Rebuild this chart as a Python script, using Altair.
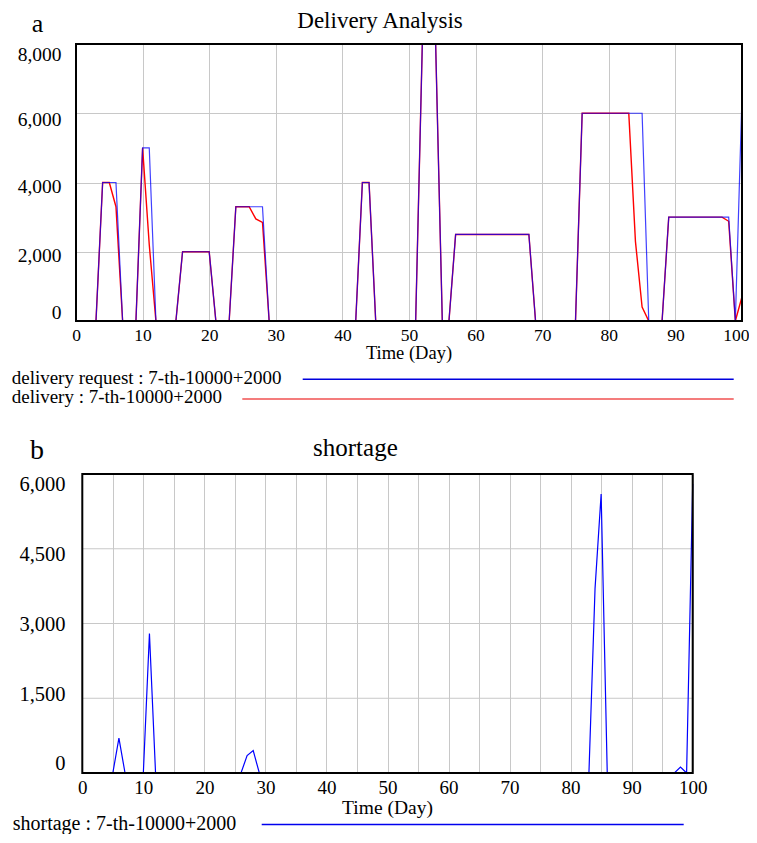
import altair as alt
import pandas as pd

# ---------------- data ----------------
days = list(range(101))

delivery_request = [
    0, 0, 0, 0, 4000, 4000, 4000, 0, 0, 0,                      # 0-9
    5000, 5000, 0, 0, 0, 0, 2000, 2000, 2000, 2000,              # 10-19
    2000, 0, 0, 0, 3300, 3300, 3300, 3300, 3300, 0,              # 20-29
    0, 0, 0, 0, 0, 0, 0, 0, 0, 0,                                # 30-39
    0, 0, 0, 4000, 4000, 0, 0, 0, 0, 0,                          # 40-49
    0, 0, 8000, 8000, 8000, 0, 0, 2500, 2500, 2500,              # 50-59
    2500, 2500, 2500, 2500, 2500, 2500, 2500, 2500, 2500, 0,     # 60-69
    0, 0, 0, 0, 0, 0, 6000, 6000, 6000, 6000,                    # 70-79
    6000, 6000, 6000, 6000, 6000, 6000, 0, 0, 0, 3000,           # 80-89
    3000, 3000, 3000, 3000, 3000, 3000, 3000, 3000, 3000, 0,     # 90-99
    6500,                                                        # 100
]

delivery = [
    0, 0, 0, 0, 4000, 4000, 3300, 0, 0, 0,
    5000, 2200, 0, 0, 0, 0, 2000, 2000, 2000, 2000,
    2000, 0, 0, 0, 3300, 3300, 3300, 2950, 2850, 0,
    0, 0, 0, 0, 0, 0, 0, 0, 0, 0,
    0, 0, 0, 4000, 4000, 0, 0, 0, 0, 0,
    0, 0, 8000, 8000, 8000, 0, 0, 2500, 2500, 2500,
    2500, 2500, 2500, 2500, 2500, 2500, 2500, 2500, 2500, 0,
    0, 0, 0, 0, 0, 0, 6000, 6000, 6000, 6000,
    6000, 6000, 6000, 6000, 2300, 400, 0, 0, 0, 3000,
    3000, 3000, 3000, 3000, 3000, 3000, 3000, 3000, 2880, 0,
    700,
]

shortage = [
    0, 0, 0, 0, 0, 0, 700, 0, 0, 0,
    0, 2800, 0, 0, 0, 0, 0, 0, 0, 0,
    0, 0, 0, 0, 0, 0, 0, 350, 450, 0,
    0, 0, 0, 0, 0, 0, 0, 0, 0, 0,
    0, 0, 0, 0, 0, 0, 0, 0, 0, 0,
    0, 0, 0, 0, 0, 0, 0, 0, 0, 0,
    0, 0, 0, 0, 0, 0, 0, 0, 0, 0,
    0, 0, 0, 0, 0, 0, 0, 0, 0, 0,
    0, 0, 0, 0, 3700, 5600, 0, 0, 0, 0,
    0, 0, 0, 0, 0, 0, 0, 0, 120, 0,
    5800,
]

x_ticks = list(range(0, 101, 5))
top_y_ticks = [0, 2000, 4000, 6000, 8000]
bottom_y_ticks = [0, 1500, 3000, 4500, 6000]

top_title = "Delivery Analysis"
bottom_title = "shortage"
x_title = "Time (Day)"
legend_request = "delivery request : 7-th-10000+2000"
legend_delivery = "delivery : 7-th-10000+2000"
legend_shortage = "shortage : 7-th-10000+2000"

df = pd.DataFrame({
    "day": days,
    "request": delivery_request,
    "delivery": delivery,
    "shortage": shortage,
})

FONT = "Liberation Serif"
GRID = "#c8c8c8"


def xaxis(size, pad, last_shift=0):
    kw = {}
    if last_shift:
        kw["labelAlign"] = {"condition": {"test": "datum.value == 100", "value": "right"},
                            "value": "center"}
        kw["labelOffset"] = {"condition": {"test": "datum.value == 100", "value": last_shift},
                             "value": 0}
    return alt.Axis(
        values=x_ticks,
        labelExpr="datum.value % 10 == 0 ? datum.label : ''",
        title=None, grid=True, gridColor=GRID, gridWidth=1,
        ticks=False, tickSize=0, domain=False,
        labelFont=FONT, labelFontSize=size, labelColor="black",
        labelPadding=pad, labelAngle=0, labelBaseline="top",
        labelFlush=False, labelOverlap=False, **kw,
    )


def yaxis(vals, size, pad, offsets, grid):
    cond = [{"test": f"datum.value == {v}", "value": o} for v, o in zip(vals, offsets)]
    return alt.Axis(
        values=vals, format=",.0f",
        title=None, grid=grid, gridColor=GRID, gridWidth=1,
        ticks=False, tickSize=0, domain=False,
        labelFont=FONT, labelFontSize=size, labelColor="black",
        labelPadding=pad, labelBaseline="middle",
        labelOffset={"condition": cond, "value": 0},
        labelFlush=False, labelOverlap=False,
    )


def txt(text, x, y, size, align="left"):
    return alt.Chart(pd.DataFrame({"t": [text]})).mark_text(
        font=FONT, fontSize=size, align=align, baseline="alphabetic", color="black"
    ).encode(text="t:N", x=alt.value(x), y=alt.value(y))


def rule(x1, x2, y, color, w, opacity=1):
    return alt.Chart(pd.DataFrame({"k": [0]})).mark_rule(
        color=color, strokeWidth=w, opacity=opacity
    ).encode(x=alt.value(x1), x2=alt.value(x2), y=alt.value(y))


def frame(x1, x2, h):
    return alt.Chart(pd.DataFrame({"k": [0]})).mark_rect(
        filled=False, stroke="black", strokeWidth=2
    ).encode(x=alt.value(x1), x2=alt.value(x2), y=alt.value(0), y2=alt.value(h))


# ---------------- top panel ----------------
TW, TH = 666, 277
x_scale = alt.Scale(domain=[0, 100], nice=False)
top_y_scale = alt.Scale(domain=[0, 8000], nice=False)

base_top = alt.Chart(df)
red_line = base_top.mark_line(color="#ff0000", strokeWidth=1.4).encode(
    x=alt.X("day:Q", scale=x_scale, axis=xaxis(17.5, 5, 7)),
    y=alt.Y("delivery:Q", scale=top_y_scale,
            axis=yaxis(top_y_ticks, 19.5, 15, [-9, 4, 4, 6, 10], True)),
)
blue_line = base_top.mark_line(color="#0000ff", strokeWidth=1.2, opacity=0.75).encode(
    x=alt.X("day:Q"), y=alt.Y("request:Q"))

top = alt.layer(
    red_line,
    blue_line,
    frame(0, TW, TH),
    txt("a", -44.3, -12.5, 26),
    txt(top_title, 304, -15.9, 23, "center"),
    txt(x_title, TW / 2, 315.3, 18.5, "center"),
    txt(legend_request, -64.3, 340.3, 19),
    txt(legend_delivery, -64.3, 359.3, 19),
    rule(226.7, 657.7, 335.3, "#0000dd", 1.4),
    rule(166.3, 657.7, 355, "#f47c7c", 2),
    rule(-67.5, -67.5, -36, "white", 1, 0),
    rule(-67.5, -67.5, 371, "white", 1, 0),
).properties(width=TW, height=TH)

# ---------------- bottom panel ----------------
BX0, BX1, BH = 6.3, 616.7, 299
bx_scale = alt.Scale(domain=[0, 100], range=[BX0, BX1], nice=False)
by_scale = alt.Scale(domain=[0, 6000], nice=False)
by_axis = yaxis(bottom_y_ticks, 20.5, 11, [-9.5, -4, 1, 5.5, 10.5], False)

bottom_grid = alt.Chart(pd.DataFrame({"v": bottom_y_ticks})).mark_rule(
    color=GRID, strokeWidth=1
).encode(y=alt.Y("v:Q", scale=by_scale, axis=by_axis), x=alt.value(BX0), x2=alt.value(BX1))

short_line = alt.Chart(df).mark_line(color="#0000ff", strokeWidth=1.2).encode(
    x=alt.X("day:Q", scale=bx_scale, axis=xaxis(19, 5)),
    y=alt.Y("shortage:Q", scale=by_scale, axis=by_axis),
)

bottom = alt.layer(
    bottom_grid,
    short_line,
    frame(BX0, BX1, BH),
    txt("b", -46, -15, 28),
    txt(bottom_title, 279.4, -17.7, 25, "center"),
    txt(x_title, (BX0 + BX1) / 2, 340, 19.5, "center"),
    txt(legend_shortage, -63.3, 356, 20),
    rule(185.7, 607.7, 350.5, "#0000ee", 1.3),
    rule(-60, -60, -58.5, "white", 1, 0),
).properties(width=617, height=BH)

chart = alt.vconcat(top, bottom, spacing=0).properties(
    padding=0, background="white"
).configure_view(stroke=None).configure_concat(spacing=0).configure_axis(labelFont=FONT)

chart.save("out.html", embed_options={"renderer": "svg", "actions": False})
